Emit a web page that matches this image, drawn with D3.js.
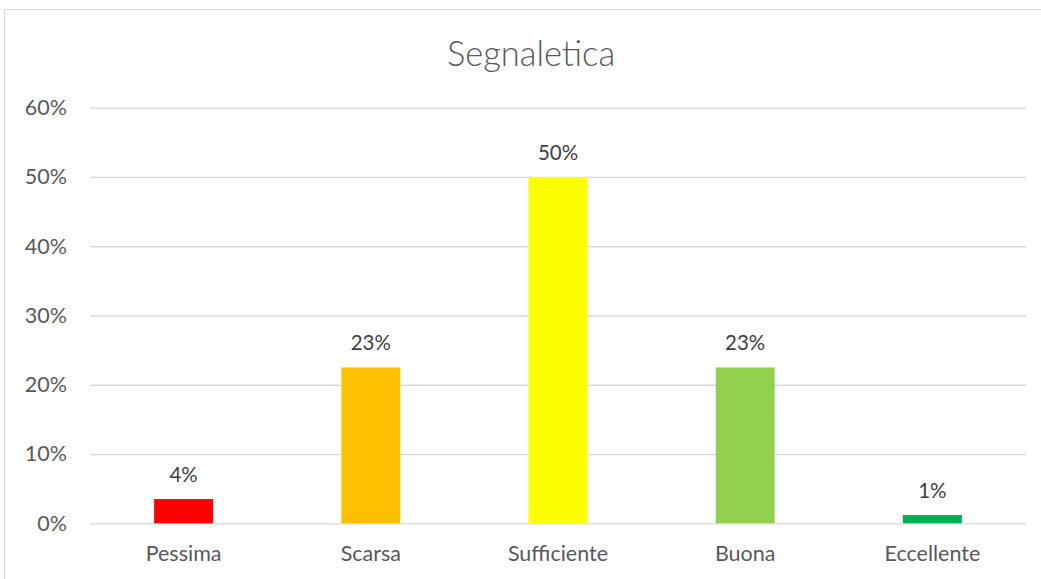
<!DOCTYPE html>
<html><head><meta charset="utf-8">
<script src="https://cdn.jsdelivr.net/npm/d3@7"></script>
<style>html,body{margin:0;padding:0;background:#fff;}svg{display:block;font-family:Lato,"Open Sans",sans-serif;}</style>
</head><body>
<script>
const categories = ["Pessima","Scarsa","Sufficiente","Buona","Eccellente"];
const values = [0.035, 0.225, 0.50, 0.225, 0.012];
const labels = ["4%","23%","50%","23%","1%"];
const colors = ["#FF0000","#FFC000","#FFFF00","#92D050","#00B050"];
const yTicks = [0,0.1,0.2,0.3,0.4,0.5,0.6];
const title = "Segnaletica";

(function(){
const W = 1041, H = 579;
const svg = d3.select("body").append("svg").attr("width", W).attr("height", H);
svg.append("rect").attr("x",4.5).attr("y",9.5).attr("width",W+10).attr("height",H+10)
  .attr("fill","#fff").attr("stroke","#d9d9d9").attr("stroke-width",1);

const pLeft = 90, pRight = 1026, pTop = 107.7, pBottom = 523.3;
const x = d3.scaleBand().domain(categories).range([pLeft,pRight]).paddingInner(0.685).paddingOuter(0.3425);
const y = d3.scaleLinear().domain([0,0.6]).range([pBottom,pTop]);

svg.append("text").attr("x",531).attr("y",66).attr("text-anchor","middle")
  .attr("font-size",34.5).attr("font-weight",300).attr("fill","#595959").text(title);

const yAxis = d3.axisLeft(y).tickValues(yTicks).tickFormat(d3.format(".0%")).tickSize(-(pRight-pLeft)).tickPadding(23);
const gy = svg.append("g").attr("transform",`translate(${pLeft},0)`).call(yAxis);
gy.select(".domain").remove();
gy.selectAll(".tick line").attr("stroke","#d9d9d9").attr("stroke-width",1.3);
gy.selectAll(".tick text").attr("fill","#595959").attr("font-size",21.5).attr("font-family","Lato,sans-serif");

svg.append("g").selectAll("rect").data(categories).join("rect")
  .attr("x",d=>x(d)).attr("width",x.bandwidth())
  .attr("y",(d,i)=>y(values[i])).attr("height",(d,i)=>pBottom-y(values[i]))
  .attr("fill",(d,i)=>colors[i]);

svg.append("g").selectAll("text").data(categories).join("text")
  .attr("x",d=>x(d)+x.bandwidth()/2).attr("y",(d,i)=>y(values[i])-17)
  .attr("text-anchor","middle").attr("font-size",20.5).attr("fill","#404040")
  .text((d,i)=>labels[i]);

const xAxis = d3.axisBottom(x).tickSize(0).tickPadding(22);
const gx = svg.append("g").attr("transform",`translate(0,${pBottom})`).call(xAxis);
gx.select(".domain").remove();
gx.selectAll(".tick text").attr("fill","#595959").attr("font-size",21.5).attr("font-family","Lato,sans-serif");
})();
</script>
</body></html>
